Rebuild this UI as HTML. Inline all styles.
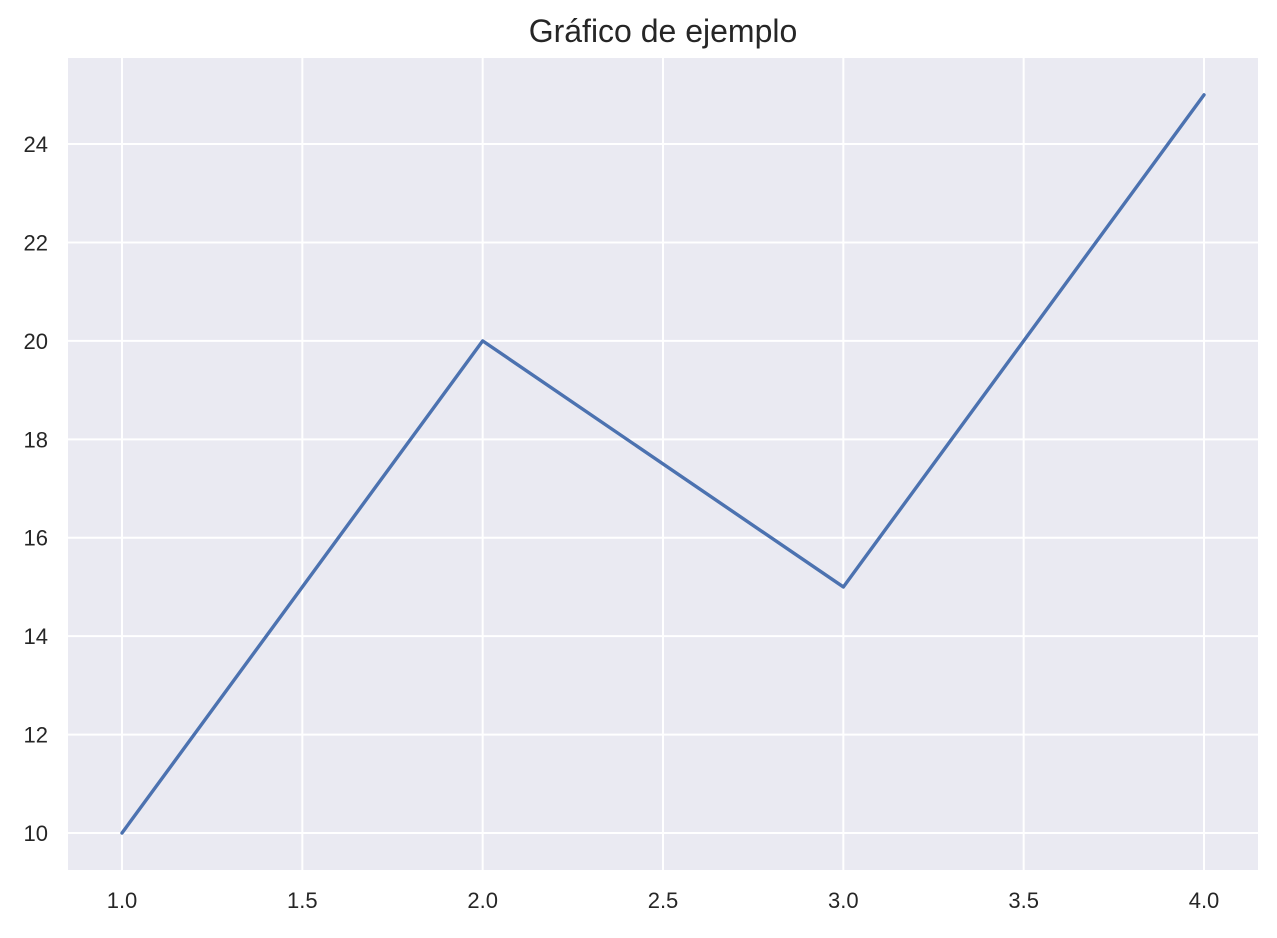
<!DOCTYPE html>
<html><head><meta charset="utf-8"><style>
html,body{margin:0;padding:0;background:#fff;}
svg text{font-family:"Liberation Sans",sans-serif;fill:#262626;}
</style></head><body>
<svg id="chart" width="1277" height="933" xmlns="http://www.w3.org/2000/svg">
<rect x="68" y="58" width="1190" height="812" fill="#EAEAF2"/>
<g id="grid"></g>
<g id="ticks"></g>
<path id="line" fill="none" stroke="#4C72B0" stroke-width="3.4" stroke-linecap="round" stroke-linejoin="round"/>
<text x="663" y="42" text-anchor="middle" font-size="32">Gráfico de ejemplo</text>
</svg>
<script>
const xValues=[1,2,3,4];
const yValues=[10,20,15,25];
const xTicks=[1.0,1.5,2.0,2.5,3.0,3.5,4.0];
const yTicks=[10,12,14,16,18,20,22,24];
const NS="http://www.w3.org/2000/svg";
function sx(v){return 122+(v-1)*360.67;}
function sy(v){return 833-(v-10)*49.21;}
const grid=document.getElementById('grid'),ticks=document.getElementById('ticks');
xTicks.forEach(t=>{
 const l=document.createElementNS(NS,'line');
 
 
 l.setAttribute('x1',sx(t));l.setAttribute('x2',sx(t));l.setAttribute('y1',58);l.setAttribute('y2',870);
 l.setAttribute('stroke','#fff');l.setAttribute('stroke-width','2');grid.appendChild(l);
 const tx=document.createElementNS(NS,'text');
 
 
 tx.setAttribute('x',sx(t));tx.setAttribute('y',908);tx.setAttribute('text-anchor','middle');tx.setAttribute('font-size','22');
 tx.textContent=t.toFixed(1);ticks.appendChild(tx);
});
yTicks.forEach(t=>{
 const l=document.createElementNS(NS,'line');
 
 
 l.setAttribute('y1',sy(t));l.setAttribute('y2',sy(t));l.setAttribute('x1',68);l.setAttribute('x2',1258);
 l.setAttribute('stroke','#fff');l.setAttribute('stroke-width','2');grid.appendChild(l);
 const tx=document.createElementNS(NS,'text');
 
 
 tx.setAttribute('x',48);tx.setAttribute('y',sy(t)+8);tx.setAttribute('text-anchor','end');tx.setAttribute('font-size','22');
 tx.textContent=t;ticks.appendChild(tx);
});
document.getElementById('line').setAttribute('d',xValues.map((x,i)=>(i?'L':'M')+sx(x)+' '+sy(yValues[i])).join(' '));
</script>
</body></html>
